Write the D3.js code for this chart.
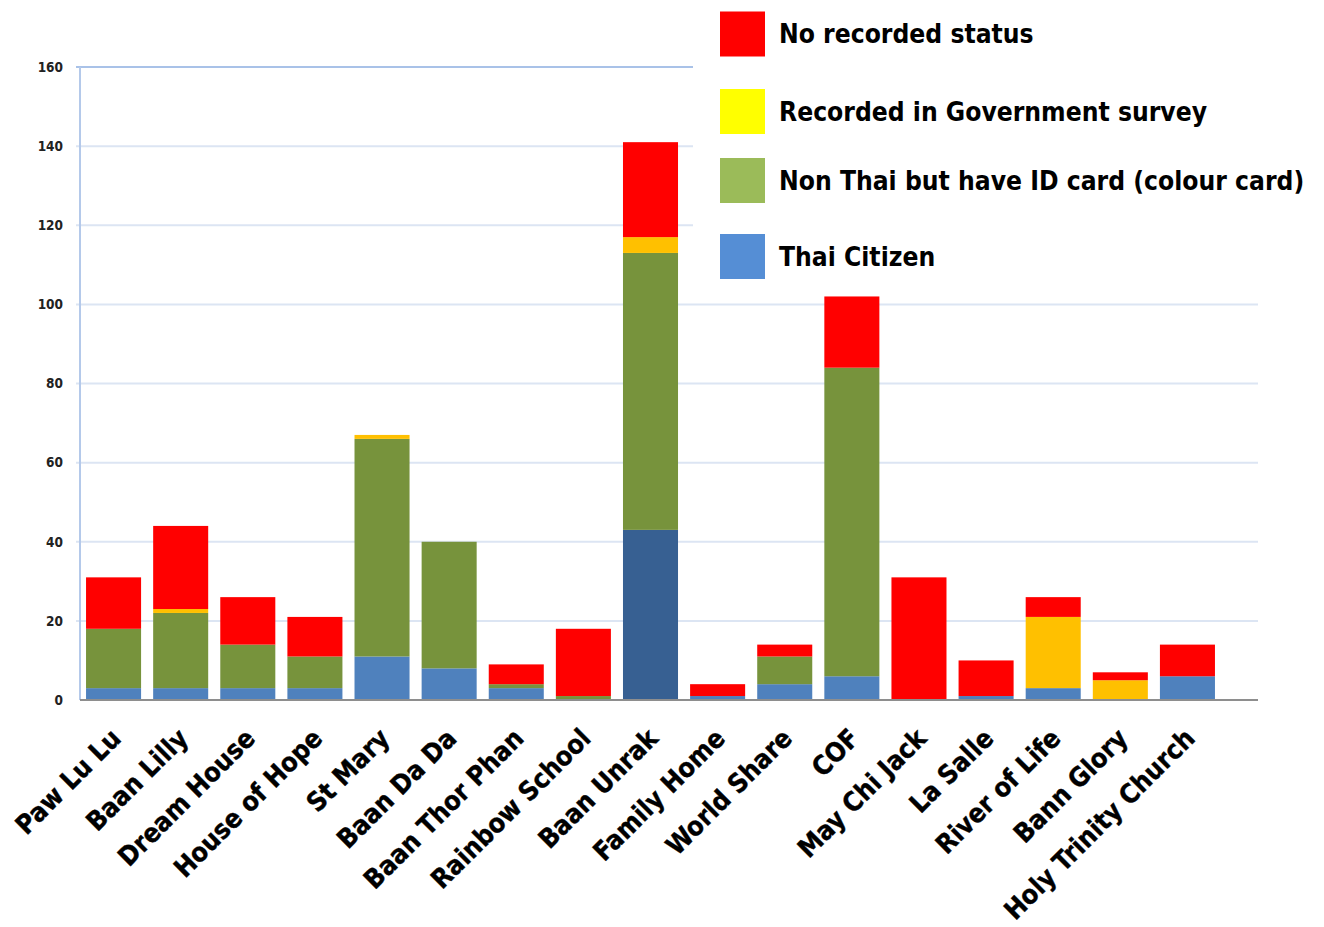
<!DOCTYPE html>
<html>
<head>
<meta charset="utf-8">
<script src="https://cdn.jsdelivr.net/npm/d3@7"></script>
<style>
  html, body { margin: 0; padding: 0; background: #fff; }
  svg { display: block; }
  .lbl { font-family: "DejaVu Sans Condensed", "DejaVu Sans", sans-serif; font-weight: bold; font-stretch: condensed; }
</style>
</head>
<body>
<svg id="chart" width="1324" height="927"></svg>
<script>
const categories = ["Paw Lu Lu", "Baan Lilly", "Dream House", "House of Hope", "St Mary", "Baan Da Da",
  "Baan Thor Phan", "Rainbow School", "Baan Unrak", "Family Home", "World Share", "COF",
  "May Chi Jack", "La Salle", "River of Life", "Bann Glory", "Holy Trinity Church"];
const thaiCitizen   = [3, 3, 3, 3, 11, 8, 3, 0, 43, 1, 4, 6, 0, 1, 3, 0, 6];
const nonThaiIdCard = [15, 19, 11, 8, 55, 32, 1, 1, 70, 0, 7, 78, 0, 0, 0, 0, 0];
const govSurvey     = [0, 1, 0, 0, 1, 0, 0, 0, 4, 0, 0, 0, 0, 0, 18, 5, 0];
const noStatus      = [13, 21, 12, 10, 0, 0, 5, 17, 24, 3, 3, 18, 31, 9, 5, 2, 8];
const seriesKeys  = ["thai", "nonThai", "gov", "none"];
const legendNames = ["No recorded status", "Recorded in Government survey", "Non Thai but have ID card (colour card)", "Thai Citizen"];
const legendKeys  = ["none", "gov", "nonThai", "thai"];
const yTicks = [0, 20, 40, 60, 80, 100, 120, 140, 160];

const barColor = { thai: "#4F81BD", nonThai: "#77933C", gov: "#FFC000", none: "#FF0000" };
const legendColor = { thai: "#558ED5", nonThai: "#9BBB59", gov: "#FFFF00", none: "#FF0000" };
const highlightBlue = "#376092";

const rows = categories.map((c, i) => ({
  cat: c, thai: thaiCitizen[i], nonThai: nonThaiIdCard[i], gov: govSurvey[i], none: noStatus[i]
}));

const svg = d3.select("#chart");
const mLeft = 80, plotRight = 1258, mTop = 67, mBottom = 700;

const x = d3.scaleBand().domain(categories).range([mLeft, 1221]).paddingInner(0.18).paddingOuter(0.09);
const y = d3.scaleLinear().domain([0, 160]).range([mBottom, mTop]);

// gridlines
svg.append("g").selectAll("line").data(yTicks.filter(t => t > 0)).join("line")
  .attr("x1", mLeft - 4).attr("x2", plotRight)
  .attr("y1", d => y(d)).attr("y2", d => y(d))
  .attr("stroke", d => d === 160 ? "#A9C2E8" : "#DCE5F3").attr("stroke-width", 2);

// left axis line
svg.append("line").attr("x1", mLeft).attr("x2", mLeft).attr("y1", y(160)).attr("y2", y(0))
  .attr("stroke", "#B4C9EA").attr("stroke-width", 2);

// y tick labels
const yAxis = d3.axisLeft(y).tickValues(yTicks).tickSize(0).tickPadding(17);
const yg = svg.append("g").attr("transform", `translate(${mLeft},0)`).call(yAxis);
yg.select(".domain").remove();
yg.selectAll("text").attr("class", "lbl").attr("font-size", 13.5).attr("fill", "#222");

// stacked bars
const stack = d3.stack().keys(seriesKeys)(rows);
svg.append("g").selectAll("g").data(stack).join("g")
  .selectAll("rect").data(s => s.map(d => ({ key: s.key, d }))).join("rect")
  .attr("x", o => x(o.d.data.cat))
  .attr("width", x.bandwidth())
  .attr("y", o => y(o.d[1]))
  .attr("height", o => y(o.d[0]) - y(o.d[1]))
  .attr("fill", o => (o.key === "thai" && o.d.data.cat === "Baan Unrak") ? highlightBlue : barColor[o.key]);

// baseline
svg.append("line").attr("x1", mLeft).attr("x2", plotRight).attr("y1", y(0)).attr("y2", y(0))
  .attr("stroke", "#8E8E8E").attr("stroke-width", 2);

// x labels
const xAxis = d3.axisBottom(x).tickSize(0);
const xg = svg.append("g").attr("transform", `translate(0,${mBottom})`).call(xAxis);
xg.select(".domain").remove();
xg.selectAll("text")
  .attr("class", "lbl").attr("font-size", 26.5).attr("fill", "#000")
  .attr("stroke", "#000").attr("stroke-width", 0.4)
  .attr("text-anchor", "end")
  .attr("dy", null).attr("y", 0)
  .attr("transform", "translate(9,40) rotate(-45)");

// legend (white background covering gridlines)
svg.append("rect").attr("x", 693).attr("y", 0).attr("width", 631).attr("height", 290).attr("fill", "#fff");
const legY = [34, 111.5, 180.5, 256.5];
const lg = svg.append("g").selectAll("g").data(legendKeys).join("g")
  .attr("transform", (k, i) => `translate(720,${legY[i]})`);
lg.append("rect").attr("x", 0).attr("y", -22.5).attr("width", 45).attr("height", 45)
  .attr("fill", k => legendColor[k]);
lg.append("text").attr("class", "lbl").attr("x", 59).attr("y", 0).attr("dy", "0.35em")
  .attr("font-size", 26.2).attr("fill", "#000")
  .text((k, i) => legendNames[i]);
</script>
</body>
</html>
